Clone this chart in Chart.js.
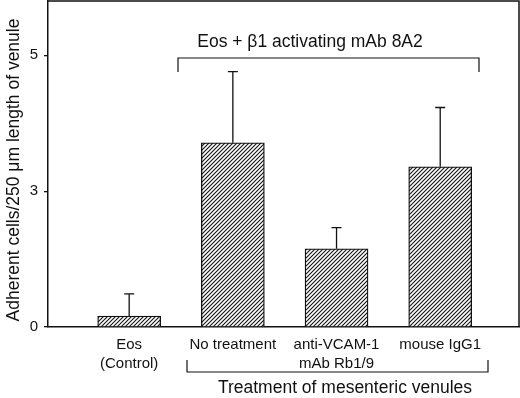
<!DOCTYPE html>
<html>
<head>
<meta charset="utf-8">
<script src="https://cdn.jsdelivr.net/npm/chart.js@4/dist/chart.umd.min.js"></script>
<style>
  html, body { margin: 0; padding: 0; background: #fff; }
  #wrap { width: 520px; height: 398px; }
</style>
</head>
<body>
<div id="wrap"><canvas id="myChart"></canvas></div>
<script>
// data
const categories = [['Eos', '(Control)'], ['No treatment'], ['anti-VCAM-1', 'mAb Rb1/9'], ['mouse IgG1']];
const positions = [1, 2, 3, 4];
const meanValues = [0.2, 3.39, 1.44, 2.95];
const errorTops = [0.61, 4.70, 1.83, 4.04];
const yTickValues = [0, 2.5, 5];
const yTickLabels = ['0', '3', '5'];
const yAxisTitle = 'Adherent cells/250 \u03bcm length of venule';
const topBracketText = 'Eos + \u03b21 activating mAb 8A2';
const bottomBracketText = 'Treatment of mesenteric venules';

const fontFamily = '"Liberation Sans", Arial, Helvetica, sans-serif';

function makeHatch() {
    const c = document.createElement('canvas');
    c.width = 4; c.height = 4;
    const g = c.getContext('2d');
    g.fillStyle = '#fff';
    g.fillRect(0, 0, 4, 4);
    g.strokeStyle = '#111';
    g.lineWidth = 1.1;
    g.beginPath();
    g.moveTo(-1, 5); g.lineTo(5, -1);
    g.moveTo(-1, 1); g.lineTo(1, -1);
    g.moveTo(3, 5); g.lineTo(5, 3);
    g.stroke();
    return g.createPattern(c, 'repeat');
}

const extras = {
    id: 'extras',
    afterDatasetsDraw(chart) {
        const { ctx, chartArea: area, scales: { x, y } } = chart;
        ctx.save();
        ctx.strokeStyle = '#111';
        ctx.fillStyle = '#111';

        // frame top + right
        ctx.lineWidth = 1.5;
        ctx.beginPath();
        ctx.moveTo(area.left, area.top);
        ctx.lineTo(area.right, area.top);
        ctx.lineTo(area.right, area.bottom);
        ctx.stroke();

        // upper error bars
        ctx.lineWidth = 1.3;
        positions.forEach((p, i) => {
            const px = x.getPixelForValue(p);
            const y0 = y.getPixelForValue(meanValues[i]);
            const y1 = y.getPixelForValue(errorTops[i]);
            ctx.beginPath();
            ctx.moveTo(px, y0);
            ctx.lineTo(px, y1);
            ctx.moveTo(px - 5, y1);
            ctx.lineTo(px + 5, y1);
            ctx.stroke();
        });

        // top bracket
        ctx.lineWidth = 1.2;
        ctx.beginPath();
        ctx.moveTo(178, 72); ctx.lineTo(178, 58); ctx.lineTo(479, 58); ctx.lineTo(479, 72);
        ctx.stroke();
        ctx.font = '17.5px ' + fontFamily;
        ctx.textAlign = 'center';
        ctx.textBaseline = 'middle';
        ctx.fillText(topBracketText, 310, 42);

        // bottom bracket
        ctx.beginPath();
        ctx.moveTo(187, 360); ctx.lineTo(187, 372); ctx.lineTo(488, 372); ctx.lineTo(488, 360);
        ctx.stroke();
        ctx.fillText(bottomBracketText, 345, 388);

        // y axis title
        ctx.translate(14, 170);
        ctx.rotate(-Math.PI / 2);
        ctx.fillText(yAxisTitle, 0, 0);
        ctx.restore();
    }
};

const ctx = document.getElementById('myChart').getContext('2d');
const myChart = new Chart(ctx, {
    type: 'bar',
    data: {
        datasets: [{
            data: positions.map((p, i) => ({ x: p, y: meanValues[i] })),
            backgroundColor: makeHatch(),
            borderColor: '#111',
            borderWidth: 1.3,
            borderSkipped: 'bottom',
            barThickness: 63
        }]
    },
    options: {
        responsive: true,
        maintainAspectRatio: false,
        animation: false,
        layout: { padding: { top: 1, right: 1, left: 0, bottom: 0 } },
        plugins: {
            legend: { display: false },
            tooltip: { enabled: false }
        },
        scales: {
            x: {
                type: 'linear',
                min: 0.217,
                max: 4.76,
                offset: false,
                afterBuildTicks: (scale) => { scale.ticks = positions.map(v => ({ value: v })); },
                afterFit: (scale) => {
                    scale.height = 71;
                    scale.paddingLeft = 0; scale.paddingRight = 0;
                },
                grid: { display: false, drawTicks: false },
                border: { color: '#111', width: 1.5 },
                ticks: {
                    color: '#111',
                    padding: 8,
                    autoSkip: false,
                    maxRotation: 0,
                    font: { family: fontFamily, size: 15, lineHeight: 1.3 },
                    callback: (value) => categories[positions.indexOf(value)]
                }
            },
            y: {
                min: 0,
                max: 6,
                afterBuildTicks: (scale) => { scale.ticks = yTickValues.map(v => ({ value: v })); },
                afterFit: (scale) => {
                    scale.width = 48;
                    scale.paddingTop = 0; scale.paddingBottom = 0;
                },
                grid: { drawOnChartArea: false, tickLength: 4, color: '#111', lineWidth: 1.3 },
                border: { color: '#111', width: 1.5 },
                ticks: {
                    color: '#111',
                    padding: 6,
                    font: { family: fontFamily, size: 15 },
                    callback: (value) => yTickLabels[yTickValues.indexOf(value)]
                }
            }
        }
    },
    plugins: [extras]
});
</script>
</body>
</html>
